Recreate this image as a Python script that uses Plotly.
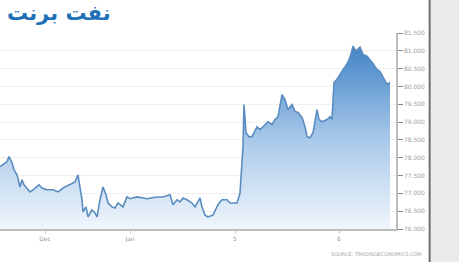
import plotly.graph_objects as go

# time position (sample index along x) and Brent price
t = [0, 3, 7, 9, 12, 14, 17, 20, 22, 24, 27, 30, 33, 37, 39, 42, 47, 53, 58, 63,
     70, 75, 78, 80, 82, 83, 86, 88, 92, 95, 97, 100, 103, 106, 108, 112, 115, 118,
     123, 127, 130, 137, 147, 157, 163, 170, 173, 177, 180, 183, 187, 192, 195, 200,
     202, 205, 208, 213, 218, 222, 227, 230, 237, 240, 243, 244, 246, 249, 252, 257,
     260, 263, 268, 272, 275, 278, 282, 285, 288, 292, 295, 298, 302, 305, 307, 310,
     313, 317, 319, 322, 327, 330, 332, 334, 337, 340, 343, 348, 351, 353, 356, 360,
     363, 367, 372, 377, 380, 383, 387, 390]
price = [77.75, 77.80, 77.89, 78.03, 77.86, 77.66, 77.52, 77.18, 77.38, 77.24, 77.15,
         77.04, 77.10, 77.18, 77.24, 77.15, 77.10, 77.10, 77.04, 77.15, 77.24, 77.32,
         77.52, 77.18, 76.82, 76.48, 76.62, 76.34, 76.54, 76.45, 76.34, 76.82, 77.18,
         76.96, 76.73, 76.62, 76.59, 76.73, 76.62, 76.90, 76.85, 76.90, 76.85, 76.90,
         76.90, 76.96, 76.68, 76.82, 76.76, 76.87, 76.82, 76.73, 76.62, 76.87, 76.62,
         76.39, 76.34, 76.39, 76.68, 76.82, 76.82, 76.73, 76.73, 77.01, 78.31, 79.49,
         78.70, 78.59, 78.59, 78.87, 78.79, 78.87, 79.01, 78.93, 79.07, 79.15, 79.77,
         79.63, 79.35, 79.49, 79.30, 79.27, 79.13, 78.87, 78.59, 78.56, 78.70, 79.35,
         79.07, 79.01, 79.07, 79.15, 79.07, 80.11, 80.20, 80.34, 80.48, 80.68, 80.90,
         81.13, 80.99, 81.10, 80.90, 80.85, 80.68, 80.48, 80.42, 80.28, 80.06, 80.11]

x_tick_pos = [45, 130, 235, 339]
x_tick_text = ["Dec", "Jan", "5", "6"]
y_ticks = [76.0, 76.5, 77.0, 77.5, 78.0, 78.5, 79.0, 79.5, 80.0, 80.5, 81.0, 81.5]
y_tick_text = ["%.3f" % v for v in y_ticks]

title_text = "نفت برنت"
source_text = "SOURCE: TRADINGECONOMICS.COM"

fig = go.Figure()
fig.add_trace(go.Scatter(
    x=t, y=price, mode="lines",
    line=dict(color="#5b8cbf", width=1.6),
    fill="tozeroy",
    fillgradient=dict(type="vertical", start=76.0, stop=81.5,
                      colorscale=[[0, "rgba(240,246,252,1)"],
                                  [0.45, "rgba(170,202,234,1)"],
                                  [1, "rgba(52,122,194,1)"]]),
    hoverinfo="skip", showlegend=False,
))

fig.update_layout(
    width=459, height=262,
    margin=dict(l=0, r=63, t=33, b=33),
    paper_bgcolor="white", plot_bgcolor="white",
    font=dict(family="DejaVu Sans", color="#9a9a9a", size=6),
    xaxis=dict(range=[0, 396], tickmode="array", tickvals=x_tick_pos,
               ticktext=x_tick_text, showgrid=False, zeroline=False,
               showline=True, linecolor="#bdbdbd", linewidth=2, automargin=False,
               ticks="outside", ticklen=3, tickcolor="#cccccc",
               tickfont=dict(size=6, color="#9a9a9a")),
    yaxis=dict(range=[76.0, 81.5], side="right", tickmode="array",
               tickvals=y_ticks, ticktext=y_tick_text, automargin=False,
               showgrid=True, gridcolor="#efefef", gridwidth=1, zeroline=False,
               showline=True, linecolor="#bdbdbd", linewidth=1.5,
               ticks="outside", ticklen=5, tickcolor="#888888",
               tickfont=dict(size=6, color="#a0a0a0")),
    shapes=[
        dict(type="rect", xref="paper", yref="paper", x0=1.087, x1=1.2,
             y0=-0.2, y1=1.2, fillcolor="#ebebeb", line=dict(width=0), layer="below"),
        dict(type="line", xref="paper", yref="paper", x0=1.085, x1=1.085,
             y0=-0.2, y1=1.2, line=dict(color="#6e6e6e", width=2)),
    ],
    annotations=[
        dict(text="<b>" + title_text + "</b>", xref="paper", yref="paper",
             x=0.012, y=1.175, xanchor="left", yanchor="top", showarrow=False,
             font=dict(family="DejaVu Sans", size=21, color="#1f70b8")),
        dict(text=source_text, xref="paper", yref="paper", x=1.07, y=-0.1,
             xanchor="right", yanchor="top", showarrow=False,
             font=dict(size=5, color="#a8a8a8")),
    ],
)

fig.write_html("out.html", config={"displayModeBar": False},
               post_script="document.body.style.margin='0';document.body.style.overflow='hidden';")
